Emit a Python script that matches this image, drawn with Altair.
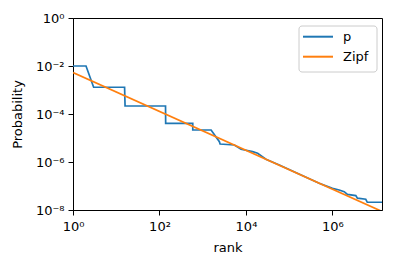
import altair as alt
import pandas as pd

# blue step-like series "p"
p_rank = [1, 2, 3, 15.6, 16, 138, 139, 588, 589, 1563, 2430, 2520, 5400, 7700,
          14260, 18600, 29000, 59000, 493000, 1.0e6, 1.43e6, 1.87e6, 2.22e6,
          3.47e6, 3.78e6, 5.9e6, 6.4e6, 1.4e7]
p_prob = [1.0e-2, 1.0e-2, 1.3e-3, 1.3e-3, 2.15e-4, 2.15e-4, 4.1e-5, 4.1e-5,
          2.15e-5, 2.15e-5, 7.0e-6, 5.6e-6, 5.1e-6, 3.4e-6, 2.7e-6, 2.3e-6,
          1.3e-6, 7.5e-7, 1.3e-7, 8.0e-8, 6.8e-8, 5.8e-8, 4.5e-8, 4.0e-8,
          3.1e-8, 2.8e-8, 2.1e-8, 2.1e-8]

# orange Zipf fit (straight in log-log)
zipf_rank = [1, 1.4e7]
zipf_prob = [5.3e-3, 8.7e-9]

series_names = ["p", "Zipf"]
series_colors = ["#1f77b4", "#ff7f0e"]

rows = []
for i, (r, v) in enumerate(zip(p_rank, p_prob)):
    rows.append({"rank": r, "prob": v, "series": "p", "i": i})
for i, (r, v) in enumerate(zip(zipf_rank, zipf_prob)):
    rows.append({"rank": r, "prob": v, "series": "Zipf", "i": i})
df = pd.DataFrame(rows)

x_expr = ("'10' + (datum.value < 10 ? '⁰' : datum.value < 1000 ? '²' : "
          "datum.value < 100000 ? '⁴' : '⁶')")
y_expr = ("'10' + (datum.value > 0.5 ? '⁰' : datum.value > 5e-3 ? '⁻²' : "
          "datum.value > 5e-5 ? '⁻⁴' : datum.value > 5e-7 ? '⁻⁶' : '⁻⁸')")

color_scale = alt.Scale(domain=series_names, range=series_colors)

lines = alt.Chart(df).mark_line(strokeWidth=1.7, clip=True).encode(
    x=alt.X("rank:Q",
            scale=alt.Scale(type="log", domain=[1, 1.4e7], nice=False),
            axis=alt.Axis(title="rank", values=[1, 100, 10000, 1000000],
                          labelExpr=x_expr, grid=False, tickSize=5,
                          labelFlush=False, labelOverlap=False,
                          labelPadding=5, titlePadding=8)),
    y=alt.Y("prob:Q",
            scale=alt.Scale(type="log", domain=[1e-8, 1], nice=False),
            axis=alt.Axis(title="Probability",
                          values=[1, 1e-2, 1e-4, 1e-6, 1e-8],
                          labelExpr=y_expr, grid=False, tickSize=5,
                          labelFlush=False, labelOverlap=False,
                          labelPadding=4, titlePadding=11)),
    color=alt.Color("series:N", scale=color_scale, legend=None),
    detail="series:N",
    order="i:Q",
)

# manual matplotlib-style legend
leg_df = pd.DataFrame({"series": series_names, "k": [0, 1]})
leg_y = alt.Y("k:Q", scale=alt.Scale(domain=[0, 1], range=[18.7, 38.7]), axis=None)
leg_box = alt.Chart(pd.DataFrame({"a": [0]})).mark_rect(
    fill="white", stroke="#cccccc", strokeWidth=1, cornerRadius=3
).encode(x=alt.value(226), x2=alt.value(304), y=alt.value(8), y2=alt.value(54))
leg_lines = alt.Chart(leg_df).mark_rule(strokeWidth=2).encode(
    x=alt.value(230), x2=alt.value(260),
    y=leg_y,
    color=alt.Color("series:N", scale=color_scale, legend=None),
)
leg_text = alt.Chart(leg_df).mark_text(
    align="left", baseline="middle", fontSize=13, font="DejaVu Sans", color="black"
).encode(
    x=alt.value(270),
    y=leg_y,
    text="series:N",
)

chart = alt.layer(lines, leg_box, leg_lines, leg_text).resolve_scale(
    y="independent"
).properties(
    width=309, height=192,
    autosize=alt.AutoSizeParams(type="none"),
    padding={"left": 65, "top": 10, "right": 5, "bottom": 50},
).configure_view(
    stroke="black", strokeWidth=1
).configure_axis(
    domainColor="black", tickColor="black", labelColor="black",
    titleColor="black", labelFont="DejaVu Sans", titleFont="DejaVu Sans",
    labelFontSize=13, titleFontSize=13, titleFontWeight="normal",
    domainWidth=1, tickWidth=1
)

chart.save("out.html", embed_options={"renderer": "svg", "actions": False})
